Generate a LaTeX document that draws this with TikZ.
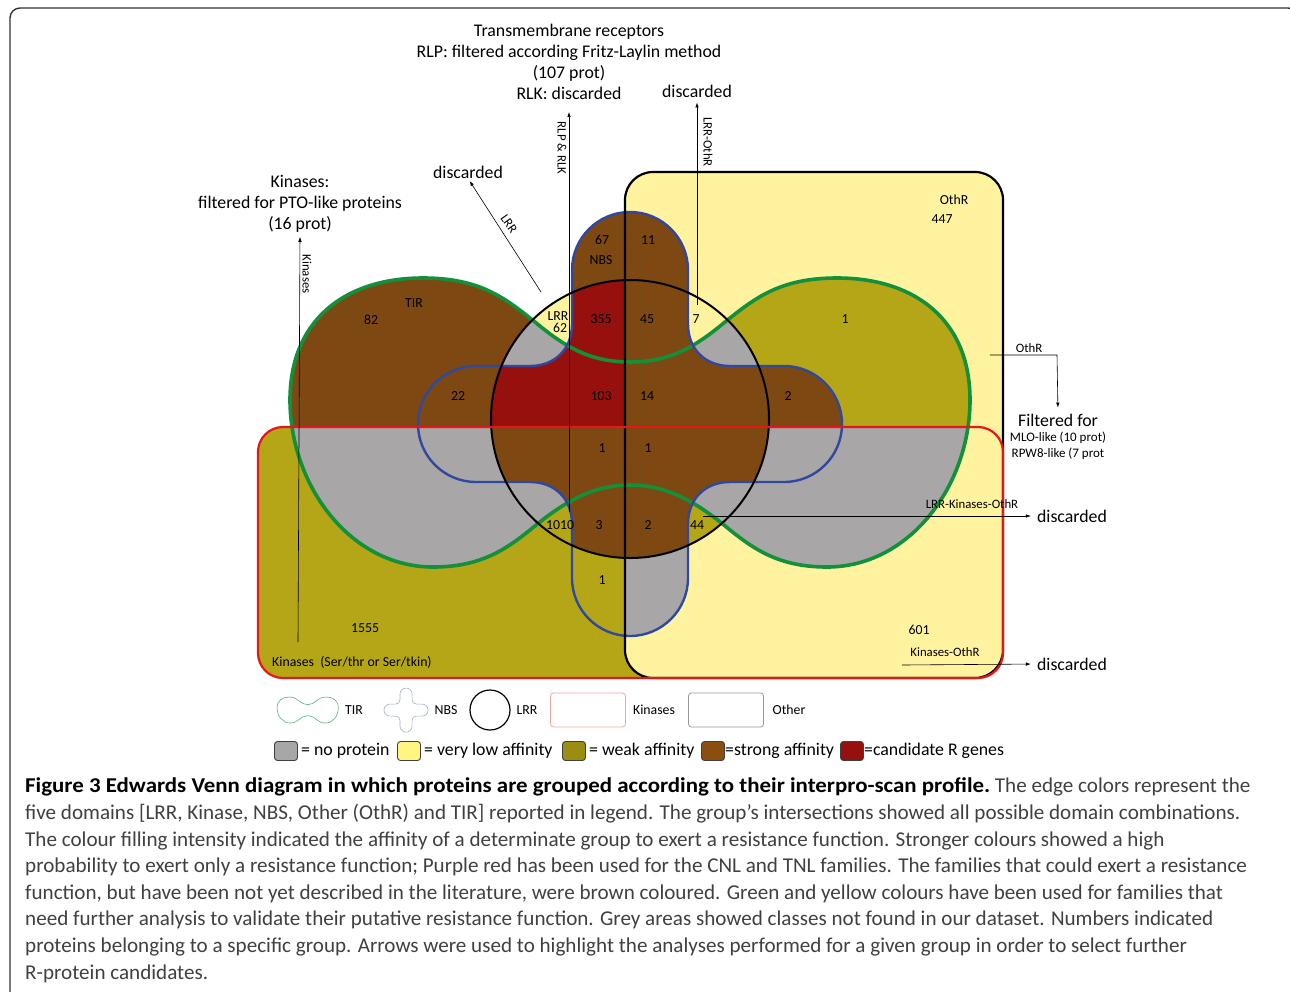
\documentclass[tikz,border=0pt]{standalone}
\usepackage{fontspec}
\usepackage{graphicx}
\setmainfont{Carlito}
\usetikzlibrary{arrows.meta}
\definecolor{lyel}{HTML}{FFF3A0}
\definecolor{oliv}{HTML}{B4A616}
\definecolor{brwn}{HTML}{7D4812}
\definecolor{dred}{HTML}{96100E}
\definecolor{gry}{HTML}{A8A6A6}
\definecolor{grn}{HTML}{12903A}
\definecolor{blu}{HTML}{3048A0}
\definecolor{rd}{HTML}{E41818}
\newcommand{\tirpath}{(630,362) .. controls (590,362) and (565,347) .. (535,322) .. controls (505,298) and (480,278) .. (423,278) .. controls (345,278) and (290,320) .. (290,400) .. controls (290,485) and (350,567) .. (433,567) .. controls (480,567) and (505,550) .. (530,530) .. controls (560,505) and (590,485) .. (630,485) .. controls (670,485) and (700,505) .. (730,530) .. controls (755,550) and (780,567) .. (827,567) .. controls (910,567) and (970,485) .. (970,400) .. controls (970,320) and (915,278) .. (837,278) .. controls (780,278) and (755,298) .. (725,322) .. controls (695,347) and (670,362) .. (630,362) -- cycle}
\newcommand{\nbspath}{(572,324) -- (572,270) .. controls (572,238) and (598,212) .. (630,212) .. controls (662,212) and (688,238) .. (688,270) -- (688,324) .. controls (688,349) and (705,366) .. (730,366) -- (784,366) .. controls (816,366) and (842,392) .. (842,424) .. controls (842,456) and (816,482) .. (784,482) -- (730,482) .. controls (705,482) and (688,499) .. (688,524) -- (688,578) .. controls (688,610) and (662,636) .. (630,636) .. controls (598,636) and (572,610) .. (572,578) -- (572,524) .. controls (572,499) and (555,482) .. (530,482) -- (476,482) .. controls (444,482) and (418,456) .. (418,424) .. controls (418,392) and (444,366) .. (476,366) -- (530,366) .. controls (555,366) and (572,349) .. (572,324) -- cycle}
\tikzset{
  num/.style={inner sep=0pt,font=\fontsize{13.8}{15}\selectfont},
  lbl/.style={inner sep=0pt,align=center,font=\fontsize{17.8}{21}\selectfont},
  sml/.style={inner sep=0pt,font=\fontsize{12.8}{14}\selectfont},
  arr/.style={-{Latex[length=5pt,width=3.5pt]},line width=0.6pt},
  swatch/.style={draw=black!75,line width=0.9pt,rounded corners=3pt,minimum width=23pt,minimum height=19pt,inner sep=0pt},
  capt/.style={anchor=base west,inner sep=0pt,font=\fontsize{21.1}{24}\selectfont,text=black!75}
}
\begin{document}
\begin{tikzpicture}[x=1pt,y=-1pt]
\useasboundingbox (0,0) rectangle (1290,991);
\draw[black!80,line width=1.4pt,rounded corners=10pt] (10,1010) -- (10,8) -- (1298,8) -- (1298,1010);
% region fills
\fill[oliv,rounded corners=25pt] (258,427) rectangle (1003,678);
\fill[lyel,rounded corners=28pt] (625,172) rectangle (1003,678);
\begin{scope}
\clip \nbspath;
\fill[brwn] (400,200) rectangle (860,427);
\fill[gry] (625,427) rectangle (860,650);
\fill[oliv] (400,427) rectangle (625,650);
\end{scope}
\begin{scope}
\clip \tirpath;
\fill[brwn] (280,270) rectangle (625,427);
\fill[oliv] (625,270) rectangle (980,427);
\fill[gry] (280,427) rectangle (980,580);
\clip \nbspath;
\fill[brwn] (280,270) rectangle (980,427);
\end{scope}
\begin{scope}
\clip (630,419) circle[radius=139];
\fill[lyel] (480,270) rectangle (780,570);
\fill[oliv] (480,427) rectangle (780,570);
\fill[gry] \tirpath;
\clip \nbspath;
\fill[dred] (480,270) rectangle (625,427);
\fill[brwn] (625,270) rectangle (780,427);
\fill[brwn] (480,427) rectangle (780,570);
\end{scope}
% domain outlines
\draw[grn,line width=3.6pt] \tirpath;
\draw[blu,line width=2.4pt] \nbspath;
\draw[line width=2pt] (630,419) circle[radius=139];
\draw[line width=2.2pt,rounded corners=28pt] (625,172) rectangle (1003,678);
\draw[rd,line width=2.2pt,rounded corners=25pt] (258,427) rectangle (1003,678);
% numbers
\node[num] (othr) at (954,200) {OthR};
\node[num] (n447) at (942,219) {447};
\node[num] (tir) at (414,303) {TIR};
\node[num] (n82) at (371,320) {82};
\node[num] (n67) at (602,240) {67};
\node[num] (nbs) at (601,260) {NBS};
\node[num] (n11) at (648,240) {11};
\node[num,align=center] (n62) at (558,322) {LRR\\[-3pt]\hspace*{4pt}62};
\node[num] (n355) at (601,319) {355};
\node[num] (n45) at (647,319) {45};
\node[num] (n7) at (696,319) {7};
\node[num] (n1a) at (845,319) {1};
\node[num] (n22) at (458,396) {22};
\node[num] (n103) at (601,396) {103};
\node[num] (n14) at (647,396) {14};
\node[num] (n2a) at (788,396) {2};
\node[num] (n1b) at (602,448) {1};
\node[num] (n1c) at (648,448) {1};
\node[num] (n1010) at (560,525) {1010};
\node[num] (n3) at (599,525) {3};
\node[num] (n2b) at (648,525) {2};
\node[num] (n44) at (697,525) {44};
\node[num] (n1d) at (602,580) {1};
\node[num] (n1555) at (365,628) {1555};
\node[num] (n601) at (919,630) {601};
\node[num,anchor=west] (kinlab) at (272,662) {Kinases\ \ (Ser/thr or Ser/tkin)};
% analyses
\node[lbl] (tmr) at (569,62) {Transmembrane receptors\\RLP: filtered according Fritz-Laylin method\\(107 prot)\\RLK: discarded};
\node[lbl] (kinf) at (300,204) {Kinases:\\filtered for PTO-like proteins\\(16 prot)};
\node[lbl] (dis1) at (468,172) {discarded};
\node[lbl] (dis2) at (697,91) {discarded};
\node[lbl] (dis3) at (1072,516) {discarded};
\node[lbl] (dis4) at (1072,664) {discarded};
\node[lbl] (filt) at (1058,420) {Filtered for};
\node[num,font=\fontsize{13}{14}\selectfont] (mlo) at (1058,438) {MLO-like (10 prot)};
\node[num,font=\fontsize{13}{14}\selectfont] (rpw) at (1058,454) {RPW8-like (7 prot};
\node[sml,rotate=-90] (kinr) at (307,274) {Kinases};
\node[sml,rotate=-90] (rlpr) at (562,148) {RLP \& RLK};
\node[sml,rotate=-90] (lor) at (708,142) {LRR-OthR};
\node[sml,rotate=-55] (lrrd) at (509,224) {LRR};
\node[sml] (othr2) at (1029,348) {OthR};
\node[sml] (lkor) at (972,504) {LRR-Kinases-OthR};
\node[sml] (kor) at (945,652) {Kinases-OthR};
\coordinate (kin0) at (298,642);
\coordinate (rlp0) at (569,512);
\coordinate (lo0) at (697,305);
\coordinate (lrr0) at (541,292);
\coordinate (oth0) at (990,355);
\coordinate (oth1) at (1057,355);
\coordinate (lko0) at (703,516);
\coordinate (ko0) at (902,665);
\draw[arr,shorten >=4pt] (kin0) -- (kinf.south);
\draw[arr,shorten >=12pt] (rlp0) -- (tmr.south);
\draw[arr,shorten >=5pt] (lo0) -- (dis2.south);
\draw[arr,shorten >=3pt] (lrr0) -- (dis1.south);
\draw[arr,shorten >=6pt] (oth0) -- (oth1) -- (filt.north);
\draw[arr,shorten >=6pt] (lko0) -- (dis3.west);
\draw[arr,shorten >=6pt] (ko0) -- (dis4.west);
% legend
\begin{scope}[shift={(251,672)},scale=0.09]
\draw[grn!70,line width=0.6pt] \tirpath;
\end{scope}
\begin{scope}[shift={(340.5,666)},scale=0.104]
\draw[blu!45,line width=0.6pt] \nbspath;
\end{scope}
\node[num] (lgtir) at (354,710) {TIR};
\node[num] (lgnbs) at (446,710) {NBS};
\node[draw,circle,line width=1.2pt,minimum size=40pt,inner sep=0pt] (lglrr) at (490,710) {};
\node[num] (lglrrt) at (527,710) {LRR};
\node[draw=rd!40,line width=0.8pt,rounded corners=3pt,minimum width=75pt,minimum height=34pt] (lgkin) at (588,710) {};
\node[num] (lgkint) at (654,710) {Kinases};
\node[draw=black!40,line width=0.8pt,rounded corners=3pt,minimum width=75pt,minimum height=34pt] (lgoth) at (726,710) {};
\node[num] (lgotht) at (789,710) {Other};
\node[swatch,fill=gry] (sw1) at (286,751) {};
\node[lbl,anchor=west] (sw1t) at (sw1.east) {\,= no protein};
\node[swatch,fill=lyel!80!yellow] (sw2) at (409,751) {};
\node[lbl,anchor=west] (sw2t) at (sw2.east) {\,= very low affinity};
\node[swatch,fill=oliv!85!black] (sw3) at (574,751) {};
\node[lbl,anchor=west] (sw3t) at (sw3.east) {\,= weak affinity};
\node[swatch,fill=brwn!90!orange] (sw4) at (713,751) {};
\node[lbl,anchor=west] (sw4t) at (sw4.east) {=strong affinity};
\node[swatch,fill=dred] (sw5) at (852,751) {};
\node[lbl,anchor=west] (sw5t) at (sw5.east) {=candidate R genes};
% caption
\node[capt] (c1) at (25,792) {\textcolor{black}{\scalebox{1.085}[1]{\textbf{Figure 3 Edwards Venn diagram in which proteins are grouped according to their interpro-scan profile.}}} The edge colors represent the};
\node[capt] (c2) at (25,819) {five domains [LRR, Kinase, NBS, Other (OthR) and TIR] reported in legend. The group’s intersections showed all possible domain combinations.};
\node[capt] (c3) at (25,846) {The colour filling intensity indicated the affinity of a determinate group to exert a resistance function. Stronger colours showed a high};
\node[capt] (c4) at (25,872) {probability to exert only a resistance function; Purple red has been used for the CNL and TNL families. The families that could exert a resistance};
\node[capt] (c5) at (25,899) {function, but have been not yet described in the literature, were brown coloured. Green and yellow colours have been used for families that};
\node[capt] (c6) at (25,925) {need further analysis to validate their putative resistance function. Grey areas showed classes not found in our dataset. Numbers indicated};
\node[capt] (c7) at (25,952) {proteins belonging to a specific group. Arrows were used to highlight the analyses performed for a given group in order to select further};
\node[capt] (c8) at (25,979) {R-protein candidates.};
\end{tikzpicture}
\end{document}
